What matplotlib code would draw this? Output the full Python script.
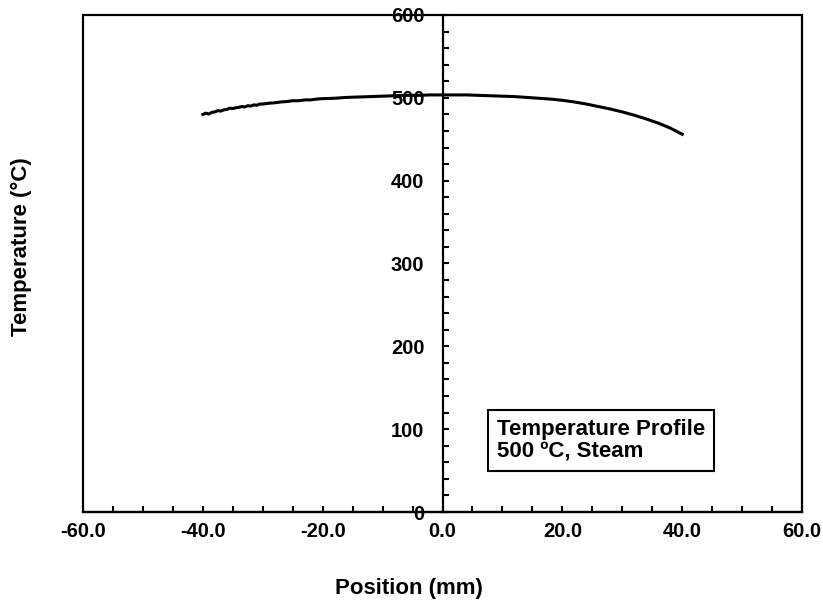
import numpy as np
from matplotlib import pyplot as plt
from matplotlib.patches import Rectangle
from matplotlib.ticker import MultipleLocator, FormatStrFormatter

# position along the sample (mm) and the measured temperature (deg C)
position = [-40, -39.5, -39, -38.5, -38, -37.5, -37, -36.5, -36, -35.5,
            -35, -34.5, -34, -33.5, -33, -32.5, -32, -31.5, -31, -30.5,
            -30, -29, -28, -27, -26, -25, -24, -23, -22, -21,
            -20, -18, -16, -14, -12, -10, -8, -6, -4, -2,
            0, 2, 4, 6, 8, 10, 12, 14, 16, 18,
            20, 22, 24, 26, 28, 30, 32, 34, 36, 38, 40]
temperature = [480.0, 481.5, 480.5, 482.5, 483.0, 484.5, 484.0, 485.5, 486.0, 487.5,
               487.0, 488.0, 488.5, 489.5, 489.0, 490.5, 490.0, 491.5, 491.0, 492.5,
               492.5, 493.5, 494.0, 495.0, 495.5, 496.5, 496.5, 497.5, 497.5, 498.5,
               499.0, 499.5, 500.5, 501.0, 501.5, 502.0, 502.5, 503.0, 503.0, 503.5,
               503.5, 503.5, 503.5, 503.0, 502.5, 502.0, 501.5, 500.5, 499.5, 498.5,
               497.0, 495.0, 492.5, 489.5, 486.5, 483.0, 479.0, 474.5, 469.5, 463.5, 456.0]

xticks_major = 20
xticks_minor = 5
yticks_major = 100
yticks_minor = 20

plt.rcParams['font.family'] = ['Liberation Sans', 'DejaVu Sans']
plt.rcParams['font.weight'] = 'bold'

fig = plt.figure(figsize=(8.23, 6.02), dpi=100)
ax = fig.add_axes([0.1009, 0.1495, 0.8736, 0.8256])

ax.plot(position, temperature, color='black', lw=2.2)

ax.set_xlim(-60, 60)
ax.set_ylim(0, 600)

# y axis runs through x = 0, the outer frame is drawn as a rectangle
ax.spines['left'].set_position(('data', 0))
ax.spines['right'].set_visible(False)
ax.spines['top'].set_visible(False)
for s in ['left', 'bottom']:
	ax.spines[s].set_linewidth(1.6)
ax.add_patch(Rectangle((0, 0), 1, 1, transform=ax.transAxes, fill=False,
                       ec='black', lw=1.6, clip_on=False, zorder=3))

ax.xaxis.set_major_locator(MultipleLocator(xticks_major))
ax.xaxis.set_minor_locator(MultipleLocator(xticks_minor))
ax.yaxis.set_major_locator(MultipleLocator(yticks_major))
ax.yaxis.set_minor_locator(MultipleLocator(yticks_minor))
ax.xaxis.set_major_formatter(FormatStrFormatter('%.1f'))
ax.yaxis.set_major_formatter(FormatStrFormatter('%d'))

ax.tick_params(axis='both', which='both', direction='in', width=1.5, labelsize=14.5)
ax.tick_params(axis='both', which='both', length=4)
ax.tick_params(axis='x', which='major', pad=7)
ax.tick_params(axis='y', which='major', pad=13)
for lab in ax.get_xticklabels() + ax.get_yticklabels():
	lab.set_fontweight('bold')

ax.set_xlabel('Position (mm)', fontsize=16, fontweight='bold')
ax.set_ylabel('Temperature (°C)', fontsize=16, fontweight='bold')
ax.xaxis.set_label_coords(0.453, -0.133)
ax.yaxis.set_label_coords(-0.071, 0.534)

ax.text(0.5758, 0.10, 'Temperature Profile\n500 ºC, Steam', transform=ax.transAxes,
        fontsize=16, fontweight='bold', va='bottom', ha='left', linespacing=1.1,
        bbox=dict(boxstyle='square,pad=0.4', fc='white', ec='black', lw=1.5))

fig.savefig('out.png', dpi=100)
